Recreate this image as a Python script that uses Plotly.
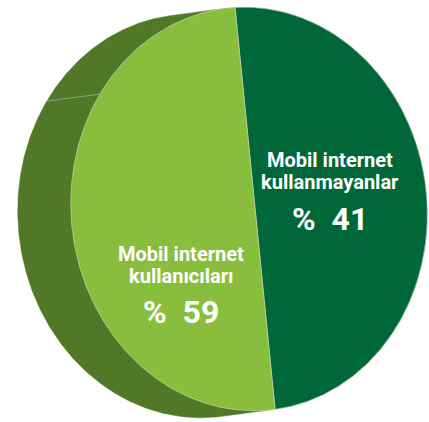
import numpy as np
import plotly.graph_objects as go

# ---- data ----
categories = ["Mobil internet kullanmayanlar", "Mobil internet kullanıcıları"]
label_lines = [["Mobil internet", "kullanmayanlar"], ["Mobil internet", "kullanıcıları"]]
values = [41, 59]
slice_colors = ["#006838", "#89bd3d"]
side_color = "#517826"

# ---- geometry (style) ----
W, H = 429, 422
CX, CY = 249.0, 209.0          # ellipse centre (pixels)
A, B = 178.0, 202.0            # semi axes
PSI = np.radians(6.0)          # tilt of the disc
BOOST = -0.247                 # perspective-like angular warp
OFFSET = np.radians(-0.35)
DEPTH = np.array([-53.0, -7.0])  # extrusion of the side (math coords, y up)


def disc_to_param(theta):
    x, y = np.cos(theta), np.sin(theta)
    xp = (x + BOOST) / (1 + BOOST * x)
    yp = y * np.sqrt(1 - BOOST ** 2) / (1 + BOOST * x)
    return np.arctan2(yp, xp) + OFFSET


def ell_math(t):
    X, Y = A * np.cos(t), B * np.sin(t)
    return X * np.cos(PSI) - Y * np.sin(PSI), X * np.sin(PSI) + Y * np.cos(PSI)


def to_screen(x, y):
    return CX + np.asarray(x), CY - np.asarray(y)


fig = go.Figure()

# ---- side (thickness) of the disc ----
t = np.linspace(0, 2 * np.pi, 721)
px, py = ell_math(t)
tx = -A * np.sin(t) * np.cos(PSI) - B * np.cos(t) * np.sin(PSI)
ty = -A * np.sin(t) * np.sin(PSI) + B * np.cos(t) * np.cos(PSI)
nx, ny = ty, -tx
front = (nx * DEPTH[0] + ny * DEPTH[1]) > 0
sx = np.where(front, px + DEPTH[0], px)
sy = np.where(front, py + DEPTH[1], py)
scx, scy = to_screen(sx, sy)
fig.add_trace(go.Scatter(x=scx, y=scy, mode="lines", fill="toself",
                         fillcolor=side_color, line=dict(color=side_color, width=0.5),
                         hoverinfo="skip", showlegend=False))

# seam on the side
seam_t = np.radians(140.0)
sxm, sym = ell_math(seam_t)
seam_x, seam_y = to_screen([sxm, sxm + DEPTH[0]], [sym, sym + DEPTH[1]])
fig.add_trace(go.Scatter(x=seam_x, y=seam_y, mode="lines",
                         line=dict(color="rgba(255,255,255,0.35)", width=1),
                         hoverinfo="skip", showlegend=False))

# ---- slices ----
total = float(sum(values))
fracs = [v / total for v in values]
start = fracs[0] * np.pi
bounds = [start]
for f in fracs:
    bounds.append(bounds[-1] - 2 * np.pi * f)

end_pts = [ell_math(disc_to_param(b)) for b in bounds[:-1]]
apex = (np.mean([p[0] for p in end_pts]), np.mean([p[1] for p in end_pts]))

for i, (cat, f) in enumerate(zip(categories, fracs)):
    th = np.linspace(bounds[i], bounds[i + 1], 300)
    tt = np.unwrap(disc_to_param(th))
    ax_, ay_ = ell_math(tt)
    xs = np.concatenate([[apex[0]], ax_, [apex[0]]])
    ys = np.concatenate([[apex[1]], ay_, [apex[1]]])
    X, Y = to_screen(xs, ys)
    fig.add_trace(go.Scatter(x=X, y=Y, mode="lines", fill="toself",
                             fillcolor=slice_colors[i],
                             line=dict(color="rgba(255,255,255,0.5)", width=0.8),
                             name=cat, hoverinfo="name", showlegend=False))

# ---- labels ----
label_pos = [(330, [160, 182, 219]), (181, [254, 276, 312])]
for i, (lx, ys_) in enumerate(label_pos):
    for j, line in enumerate(label_lines[i]):
        fig.add_annotation(x=lx, y=ys_[j], text="<b>%s</b>" % line, showarrow=False,
                           xanchor="center", yanchor="middle",
                           font=dict(family="Roboto", size=20, color="white", weight=900))
    fig.add_annotation(x=lx, y=ys_[2], text="<b>%%  %d</b>" % values[i], showarrow=False,
                       xanchor="center", yanchor="middle",
                       font=dict(family="Roboto", size=32, color="white", weight=900))

fig.update_layout(width=W, height=H, margin=dict(l=0, r=0, t=0, b=0),
                  paper_bgcolor="white", plot_bgcolor="white",
                  xaxis=dict(range=[0, W], visible=False, fixedrange=True),
                  yaxis=dict(range=[H, 0], visible=False, fixedrange=True))
fig.write_html("out.html")
